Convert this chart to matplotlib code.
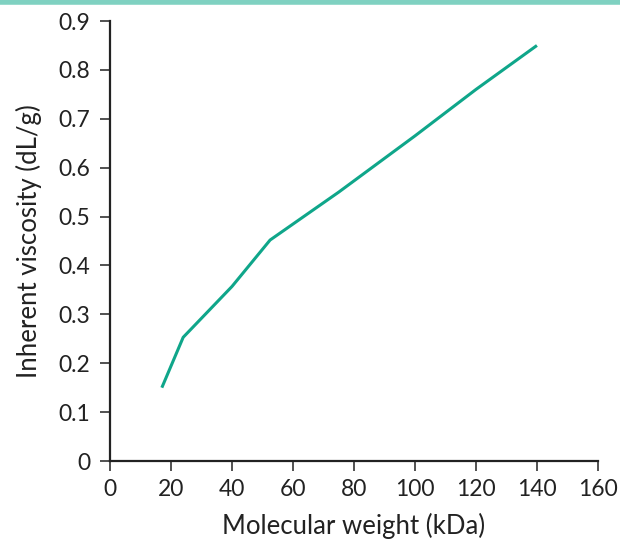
import matplotlib
matplotlib.use("Agg")
import matplotlib.pyplot as plt
from matplotlib.lines import Line2D

# Data
mol_weight = [17, 24, 40, 52.5, 75, 100, 120, 140]
viscosity  = [0.15, 0.253, 0.357, 0.452, 0.55, 0.665, 0.76, 0.85]
x_ticks = [0, 20, 40, 60, 80, 100, 120, 140, 160]
y_ticks = [0, 0.1, 0.2, 0.3, 0.4, 0.5, 0.6, 0.7, 0.8, 0.9]
y_tick_labels = ["0", "0.1", "0.2", "0.3", "0.4", "0.5", "0.6", "0.7", "0.8", "0.9"]

LINE_COLOR = "#0fa68a"
BAND_COLOR = "#7fd1c1"

plt.rcParams["font.family"] = ["Lato", "DejaVu Sans"]

fig = plt.figure(figsize=(6.2, 5.43), dpi=100)
ax = fig.add_axes([0.1774, 0.151, 0.787, 0.8103])

ax.plot(mol_weight, viscosity, color=LINE_COLOR, lw=2.2, solid_capstyle="butt")

ax.set_xlim(0, 160)
ax.set_ylim(0, 0.9)
ax.set_xticks(x_ticks)
ax.set_yticks(y_ticks)
ax.set_yticklabels(y_tick_labels)
ax.spines["top"].set_visible(False)
ax.spines["right"].set_visible(False)
for s in ("left", "bottom"):
    ax.spines[s].set_linewidth(1.6)
    ax.spines[s].set_color("#222222")
ax.tick_params(axis="both", direction="out", length=7, width=1.1,
               colors="#222222", labelsize=16.5)
ax.tick_params(axis="y", pad=7)
ax.tick_params(axis="x", pad=6)

ax.set_xlabel("Molecular weight (kDa)", fontsize=18.5, color="#222222", labelpad=9)
ax.set_ylabel("Inherent viscosity (dL/g)", fontsize=18.5, color="#222222", labelpad=12)

# teal band along the top edge
fig.add_artist(Line2D([0, 1], [0.997, 0.997], transform=fig.transFigure,
                      color=BAND_COLOR, lw=4))

fig.savefig("out.png", dpi=100)
